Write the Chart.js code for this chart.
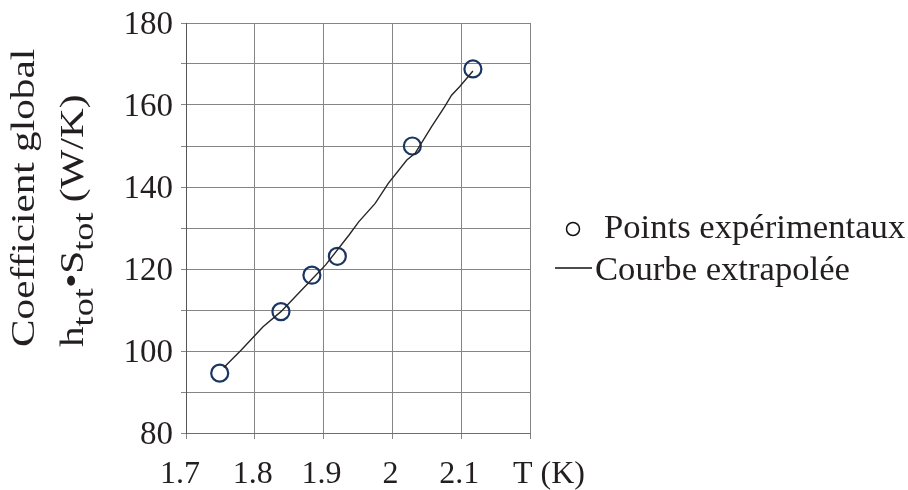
<!DOCTYPE html>
<html lang="fr">
<head>
<meta charset="UTF-8">
<title>Coefficient global</title>
<script src="https://cdn.jsdelivr.net/npm/chart.js"></script>
<style>
  body { margin: 0; padding: 0; background: #ffffff; font-family: "Liberation Serif"; }
  canvas { display: block; }
  .preload { position: absolute; left: -999px; top: 0; font-family: "Liberation Serif"; }
</style>
</head>
<body>
<span class="preload">Points expérimentaux 180</span>
<canvas id="chart" width="908" height="490"></canvas>
<script>
// points expérimentaux
const pointsT = [1.749, 1.838, 1.883, 1.92, 2.029, 2.117];
const pointsCoef = [94.6, 109.6, 118.5, 123.1, 150.0, 168.8];

// courbe extrapolée
const curveT = [1.755, 1.78, 1.812, 1.838, 1.883, 1.903, 1.937, 1.951, 1.975, 1.994, 2.021, 2.033, 2.057, 2.076, 2.086, 2.098, 2.117];
const curveCoef = [96, 100.2, 105.9, 109.6, 117.5, 121, 128.3, 131.5, 136, 140.9, 146.6, 148.2, 154.7, 159.6, 162.4, 164.5, 168.3];

const xTickLabels = ['1.7', '1.8', '1.9', '2', '2.1'];
const legendLabels = ['Points expérimentaux', 'Courbe extrapolée'];
const titleLine1 = 'Coefficient global';
const xTitle = 'T (K)';

const textColor = '#231f20';
const serif = "'Liberation Serif', 'Times New Roman', serif";

// texte étiré dans le sens de lecture, comme dans la figure d'origine
function stretchedText(ctx, txt, x, y, sx, align) {
  ctx.save();
  ctx.translate(x, y);
  ctx.scale(sx, 1);
  ctx.textAlign = align || 'left';
  ctx.fillText(txt, 0, 0);
  ctx.restore();
}

const textPlugin = {
  id: 'textes',
  afterDraw(chart) {
    const ctx = chart.ctx;
    const xs = chart.scales.x, ys = chart.scales.y;
    ctx.save();
    ctx.fillStyle = textColor;
    ctx.textBaseline = 'alphabetic';

    // graduations y (une sur deux)
    ctx.font = '33px ' + serif;
    ys.ticks.forEach(t => {
      if (Math.round(t.value) % 20 !== 0) return;
      stretchedText(ctx, String(Math.round(t.value)), 173, ys.getPixelForValue(t.value) + 11, 1, 'right');
    });

    // graduations x
    ctx.font = '32px ' + serif;
    xs.ticks.forEach((t, i) => {
      if (!xTickLabels[i]) return;
      stretchedText(ctx, xTickLabels[i], xs.getPixelForValue(t.value) - (i === 0 ? 6 : 2), 483, 1, 'center');
    });

    // titre axe x
    ctx.textAlign = 'left';
    ctx.fillText(xTitle, xs.getPixelForValue(2.2) - 17, 483);

    // titre axe y, deux lignes tournées
    const sx = 1.25;
    ctx.save();
    ctx.translate(34, 347);
    ctx.rotate(-Math.PI / 2);
    ctx.scale(sx, 1);
    ctx.font = '33px ' + serif;
    ctx.fillText(titleLine1, 0, 0);
    ctx.restore();

    ctx.save();
    ctx.translate(83, 347);
    ctx.rotate(-Math.PI / 2);
    ctx.scale(sx, 1);
    let pos = 0;
    const parts = [['h', 0, 33], ['tot', 10, 29], ['\u2022', 0, 33], ['S', 0, 33], ['tot', 10, 29], [' (W/K)', 0, 33]];
    parts.forEach(p => {
      ctx.font = p[2] + 'px ' + serif;
      ctx.fillText(p[0], pos, p[1]);
      pos += ctx.measureText(p[0]).width;
    });
    ctx.restore();

    // légende
    ctx.strokeStyle = '#111';
    ctx.lineWidth = 1.5;
    ctx.beginPath();
    ctx.arc(573, 229, 6.5, 0, Math.PI * 2);
    ctx.stroke();
    ctx.lineWidth = 1.3;
    ctx.beginPath();
    ctx.moveTo(555, 268);
    ctx.lineTo(592, 268);
    ctx.stroke();
    ctx.font = '33px ' + serif;
    stretchedText(ctx, legendLabels[0], 604, 238, 1.05);
    stretchedText(ctx, legendLabels[1], 595, 280, 1.05);

    ctx.restore();
  }
};

function draw() {
  new Chart(document.getElementById('chart'), {
    type: 'scatter',
    data: {
      datasets: [{
        label: legendLabels[1],
        data: curveT.map((t, i) => ({ x: t, y: curveCoef[i] })),
        showLine: true,
        borderColor: '#262626',
        borderWidth: 1.4,
        pointRadius: 0,
        tension: 0
      }, {
        label: legendLabels[0],
        data: pointsT.map((t, i) => ({ x: t, y: pointsCoef[i] })),
        showLine: false,
        pointRadius: 8.5,
        pointBorderWidth: 2.2,
        pointBorderColor: '#1b3563',
        pointBackgroundColor: 'rgba(0,0,0,0)'
      }]
    },
    options: {
      responsive: false,
      animation: false,
      layout: { padding: { top: 23, right: 378, left: 0, bottom: 0 } },
      plugins: { legend: { display: false }, tooltip: { enabled: false } },
      scales: {
        x: {
          type: 'linear',
          min: 1.7,
          max: 2.2,
          afterFit(scale) { scale.height = 57; },
          grid: { color: '#858585', lineWidth: 1, tickLength: 6 },
          border: { color: '#6e6e6e' },
          ticks: { stepSize: 0.1, display: false }
        },
        y: {
          min: 80,
          max: 180,
          afterFit(scale) { scale.width = 186; },
          grid: { color: '#858585', lineWidth: 1, tickLength: 5 },
          border: { color: '#555555' },
          ticks: { stepSize: 10, display: false }
        }
      }
    },
    plugins: [textPlugin]
  });
}

document.fonts.load("32px 'Liberation Serif'").then(draw, draw);
</script>
</body>
</html>
